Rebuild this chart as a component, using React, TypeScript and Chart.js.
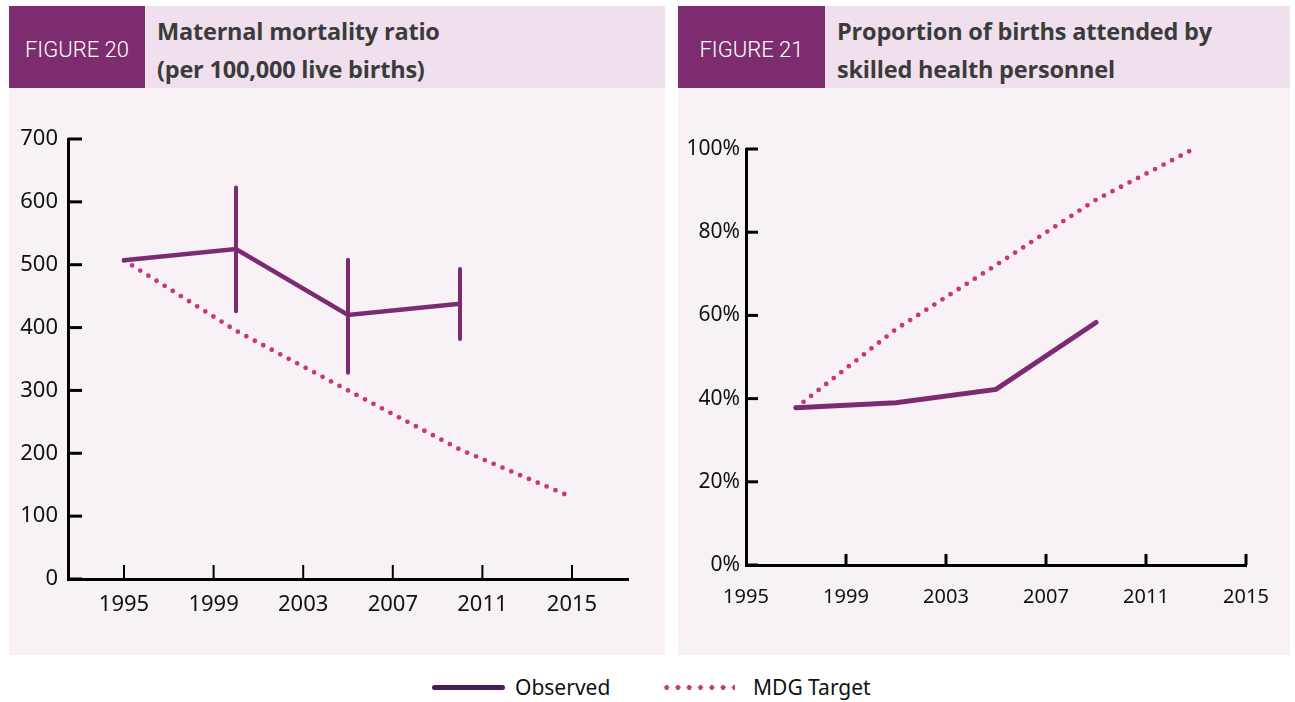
import React, { useEffect, useRef } from "react";
import { Chart, registerables } from "chart.js";

Chart.register(...registerables);

// ---------- data ----------
const mmrObservedYears = [1995, 2000, 2005, 2010];
const mmrObservedValues = [507, 525, 420, 438];
const mmrErrLow = [null, 426, 328, 382];
const mmrErrHigh = [null, 623, 508, 493];
const mmrTargetYears = [1995, 2000, 2005, 2010, 2015];
const mmrTargetValues = [507, 395, 300, 206, 130];
const mmrYTicks = [0, 100, 200, 300, 400, 500, 600, 700];

const sbaObservedYears = [1997, 2001, 2005, 2009];
const sbaObservedValues = [37.8, 39.0, 42.2, 58.3];
const sbaTargetYears = [1997, 2001, 2005, 2009, 2013];
const sbaTargetValues = [37.8, 56.7, 72.1, 87.8, 100.3];
const sbaYTicks = [0, 20, 40, 60, 80, 100];

const xTickYears = [1995, 1999, 2003, 2007, 2011, 2015];

const OBS = "#7c2b72";
const TGT = "#c8367c";
const FONT = "'Noto Sans', sans-serif";

const pts = (xs: number[], ys: number[]) => xs.map((x, i) => ({ x, y: ys[i] }));

function makeTickPlugin(cfg: {
  yLen: number; yW: number; xLen: number; xW: number; xSkipFirst?: boolean;
}) {
  return {
    id: "inwardTicks",
    afterDraw(chart: any) {
      const ctx = chart.ctx;
      const { left, bottom } = chart.chartArea;
      const xs = chart.scales.x;
      const ys = chart.scales.y;
      ctx.save();
      ctx.strokeStyle = "#000";
      ctx.lineCap = "butt";
      ctx.lineWidth = cfg.yW;
      ys.ticks.forEach((t: any) => {
        const py = ys.getPixelForValue(t.value);
        ctx.beginPath();
        ctx.moveTo(left, py);
        ctx.lineTo(left + cfg.yLen, py);
        ctx.stroke();
      });
      ctx.lineWidth = cfg.xW;
      xs.ticks.forEach((t: any, i: number) => {
        if (cfg.xSkipFirst && i === 0) return;
        const px = xs.getPixelForValue(t.value);
        ctx.beginPath();
        ctx.moveTo(px, bottom);
        ctx.lineTo(px, bottom - cfg.xLen);
        ctx.stroke();
      });
      ctx.restore();
    },
  };
}

const errorBarPlugin = {
  id: "errorBars",
  afterDatasetsDraw(chart: any) {
    const ctx = chart.ctx;
    const xs = chart.scales.x;
    const ys = chart.scales.y;
    ctx.save();
    ctx.strokeStyle = OBS;
    ctx.lineWidth = 4;
    ctx.lineCap = "round";
    mmrObservedYears.forEach((yr, i) => {
      const lo = mmrErrLow[i];
      const hi = mmrErrHigh[i];
      if (lo == null || hi == null) return;
      const px = xs.getPixelForValue(yr);
      ctx.beginPath();
      ctx.moveTo(px, ys.getPixelForValue(lo));
      ctx.lineTo(px, ys.getPixelForValue(hi));
      ctx.stroke();
    });
    ctx.restore();
  },
};

function LineChart(props: {
  width: number; height: number; config: any;
}) {
  const ref = useRef<HTMLCanvasElement>(null);
  useEffect(() => {
    const chart = new Chart(ref.current as HTMLCanvasElement, props.config);
    return () => chart.destroy();
  }, []);
  return (
    <canvas
      ref={ref}
      width={props.width}
      height={props.height}
      style={{ width: props.width, height: props.height, display: "block" }}
    />
  );
}

function buildConfig(o: {
  obs: any[]; tgt: any[]; obsWidth: number;
  xMin: number; xMax: number; yMax: number; yTicks: number[];
  yFmt: (v: number) => string; pad: any; yWidth: number; xHeight: number;
  yPad: number; xPad: number; fontSize: number; yFontSize: number; plugins: any[];
}) {
  return {
    type: "line",
    data: {
      datasets: [
        {
          label: "Observed",
          data: o.obs,
          borderColor: OBS,
          borderWidth: o.obsWidth,
          borderCapStyle: "round",
          borderJoinStyle: "miter",
          pointRadius: 0,
          fill: false,
          tension: 0,
        },
        {
          label: "MDG Target",
          data: o.tgt,
          borderColor: TGT,
          borderWidth: 4.8,
          borderDash: [0, 9.6],
          borderCapStyle: "round",
          pointRadius: 0,
          fill: false,
          tension: 0,
        },
      ],
    },
    options: {
      animation: false,
      responsive: false,
      maintainAspectRatio: false,
      layout: { padding: o.pad },
      plugins: { legend: { display: false }, tooltip: { enabled: false } },
      scales: {
        x: {
          type: "linear",
          min: o.xMin,
          max: o.xMax,
          afterBuildTicks: (s: any) => {
            s.ticks = xTickYears.map((v) => ({ value: v }));
          },
          afterFit: (s: any) => {
            s.height = o.xHeight;
          },
          grid: { display: true, drawOnChartArea: false, drawTicks: false, color: "rgba(0,0,0,0)" },
          border: { display: true, color: "#000", width: 3 },
          ticks: {
            autoSkip: false,
            maxRotation: 0,
            padding: o.xPad,
            color: "#111",
            font: { family: FONT, size: o.fontSize },
            callback: (v: number) => String(v),
          },
        },
        y: {
          type: "linear",
          min: 0,
          max: o.yMax,
          afterBuildTicks: (s: any) => {
            s.ticks = o.yTicks.map((v) => ({ value: v }));
          },
          afterFit: (s: any) => {
            s.width = o.yWidth;
          },
          grid: { display: true, drawOnChartArea: false, drawTicks: false, color: "rgba(0,0,0,0)" },
          border: { display: true, color: "#000", width: 3 },
          ticks: {
            padding: o.yPad,
            color: "#111",
            font: { family: FONT, size: o.yFontSize },
            callback: (v: number) => o.yFmt(v),
          },
        },
      },
    },
    plugins: o.plugins,
  };
}

const leftConfig = buildConfig({
  obs: pts(mmrObservedYears, mmrObservedValues),
  tgt: pts(mmrTargetYears, mmrTargetValues),
  obsWidth: 4.5,
  xMin: 1992.5,
  xMax: 2017.5,
  yMax: 700,
  yTicks: mmrYTicks,
  yFmt: (v) => String(v),
  pad: { left: 0, top: 51, right: 37, bottom: 0 },
  yWidth: 59,
  xHeight: 76,
  yPad: 10,
  xPad: 13,
  fontSize: 22,
  yFontSize: 22,
  plugins: [makeTickPlugin({ yLen: 14, yW: 3, xLen: 14, xW: 2 }), errorBarPlugin],
});

const rightConfig = buildConfig({
  obs: pts(sbaObservedYears, sbaObservedValues),
  tgt: pts(sbaTargetYears, sbaTargetValues),
  obsWidth: 5,
  xMin: 1995,
  xMax: 2015,
  yMax: 100,
  yTicks: sbaYTicks,
  yFmt: (v) => v + "%",
  pad: { left: 0, top: 61, right: 44, bottom: 0 },
  yWidth: 68,
  xHeight: 90,
  yPad: 6,
  xPad: 20,
  fontSize: 20,
  yFontSize: 21,
  plugins: [makeTickPlugin({ yLen: 12, yW: 3, xLen: 11, xW: 3, xSkipFirst: true })],
});

const PURPLE = "#7d2c6f";
const HEAD_BG = "#f0dfec";
const BODY_BG = "#f8f1f6";

function Panel(props: {
  left: number; width: number; figLabel: string; figWidth: number;
  title: string[]; config: any;
}) {
  return (
    <div style={{ position: "absolute", left: props.left, top: 6, width: props.width }}>
      <div style={{ display: "flex", height: 82, background: HEAD_BG }}>
        <div
          style={{
            width: props.figWidth,
            flex: "none",
            background: PURPLE,
            color: "#fff",
            fontFamily: "Roboto, sans-serif",
            fontWeight: 300,
            fontSize: 22,
            display: "flex",
            alignItems: "center",
            justifyContent: "center",
            paddingTop: 4,
            boxSizing: "border-box",
          }}
        >
          {props.figLabel}
        </div>
        <div
          style={{
            paddingLeft: 12,
            paddingTop: 6,
            color: "#3b3b3b",
            fontFamily: "'Open Sans', sans-serif",
            fontWeight: 700,
            fontSize: 23.5,
            letterSpacing: "-0.2px",
            lineHeight: "38px",
            whiteSpace: "nowrap",
          }}
        >
          {props.title.map((t, i) => (
            <div key={i}>{t}</div>
          ))}
        </div>
      </div>
      <div style={{ background: BODY_BG, height: 567 }}>
        <LineChart width={props.width} height={567} config={props.config} />
      </div>
    </div>
  );
}

export default function App() {
  return (
    <div
      style={{
        position: "fixed",
        left: 0,
        top: 0,
        width: 1295,
        height: 702,
        background: "#fff",
        overflow: "hidden",
      }}
    >
      <Panel
        left={9}
        width={656}
        figLabel="FIGURE 20"
        figWidth={136}
        title={["Maternal mortality ratio", "(per 100,000 live births)"]}
        config={leftConfig}
      />
      <Panel
        left={678}
        width={612}
        figLabel="FIGURE 21"
        figWidth={147}
        title={["Proportion of births attended by", "skilled health personnel"]}
        config={rightConfig}
      />
      <div
        style={{
          position: "absolute",
          top: 676,
          left: 0,
          width: 1295,
          height: 24,
          fontFamily: FONT,
          fontSize: 21,
          color: "#111",
        }}
      >
        <div
          style={{
            position: "absolute",
            left: 432,
            top: 9,
            width: 73,
            height: 5,
            borderRadius: 3,
            background: "#4d1a5c",
          }}
        />
        <div style={{ position: "absolute", left: 515, top: -3, lineHeight: "28px" }}>Observed</div>
        <div
          style={{
            position: "absolute",
            left: 661,
            top: 9,
            width: 74,
            height: 5,
            backgroundImage: `radial-gradient(circle, ${TGT} 2.3px, transparent 2.6px)`,
            backgroundSize: "11.3px 5px",
            backgroundRepeat: "repeat-x",
          }}
        />
        <div style={{ position: "absolute", left: 753, top: -3, lineHeight: "28px" }}>MDG Target</div>
      </div>
    </div>
  );
}
